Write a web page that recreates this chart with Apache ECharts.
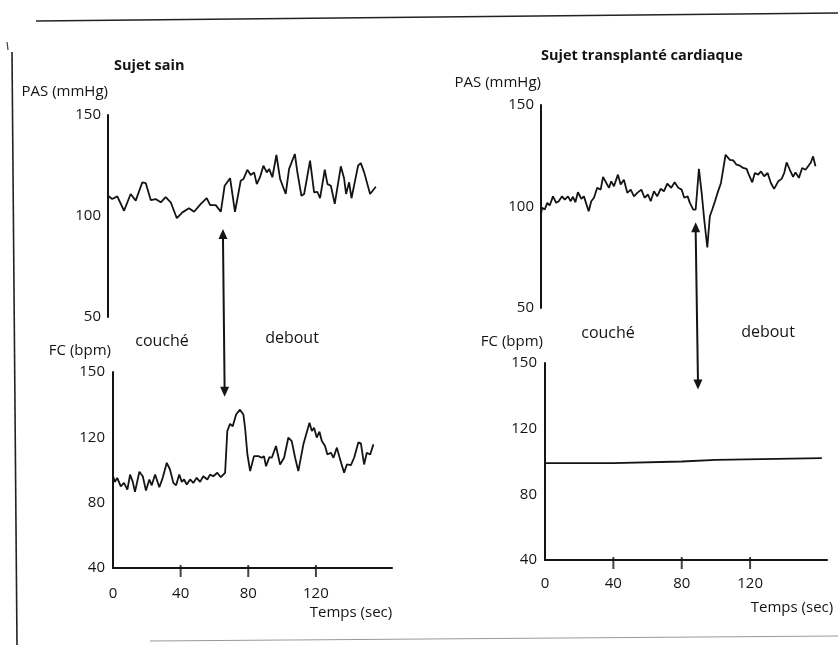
<!DOCTYPE html>
<html>
<head>
<meta charset="utf-8">
<script src="https://cdn.jsdelivr.net/npm/echarts@6/dist/echarts.min.js"></script>
<style>
html,body{margin:0;padding:0;background:#ffffff;}
#c{width:838px;height:645px;}
</style>
</head>
<body>
<div id="c"></div>
<script>
// ---- data ----
// Sujet sain, PAS (mmHg)
const sainPasTime = [0,2.5,5.5,9.5,13.4,16.4,20.3,22.3,25.3,28.2,31.2,34.1,37.1,40.7,44,47.9,50.9,54.9,58.4,60.4,63.7,66.7,69,72.2,75.1,78.5,80.1,82.4,84.4,86.4,88,89.9,91.9,93.9,95.3,97.2,99.6,101.8,105.1,107.1,110.5,112,114.4,116,119.5,121.9,123.8,125.4,128.2,129.8,131.8,134.1,137.7,139.6,140.8,142.6,144,146,147.9,149.5,151.5,155,158.4];
const sainPas = [110,108.4,109.7,102.6,110.9,107.6,116.7,116.3,107.9,108.4,106.8,109.3,106.8,98.9,101.8,103.8,102.1,106,108.8,105.4,105.4,102.1,115,118.7,102.1,117.5,118.3,122.9,120.3,121.6,115.8,119.2,124.9,121.6,123.3,119.2,130.2,118.3,110.9,123.3,130.7,121.6,110,110.9,127.4,111.7,112,108.8,122.9,115.8,115,106,124.6,118.7,110.9,116.7,108.8,117,124.9,126.2,121.6,110.9,114.5];
// Sujet sain, FC (bpm)
const sainFcTime = [0,1.2,2.5,4.6,6.5,8.5,10.1,11.7,13,15.6,17.6,19.5,21.5,22.9,24.9,27.4,29.4,31.8,33.7,35.7,37.3,39.2,40.7,42,43.6,45.6,47.5,49.5,51.5,53.4,55.8,57.4,59.3,61.7,63.7,66.3,67.6,69.2,70.8,72.8,75.1,77.1,78.1,79.5,81.1,82.1,83.4,86,88,89.3,90.5,92.5,93.9,96.4,98.8,101.2,103.7,105.7,107.7,109.6,112.6,116.2,117.6,118.9,120.5,122.1,123.5,125.4,126.8,128.8,130.4,132.4,134.3,136.7,138.3,140.7,142.6,145.1,146.6,148.5,150.1,152.1,154];
const sainFc = [96.2,92.7,95.2,90,92.1,88,97.2,92.7,86.6,98.9,96.2,87.4,94.2,90.6,97.2,89.4,95.2,104.4,100.3,92.1,90.6,97.2,92.7,94.2,91.1,94.2,92.1,95.2,92.7,96.2,94.2,97.2,96.2,98.3,95.6,98.3,122.9,126.2,125.1,130.5,132.7,130.5,124.4,109.5,99.3,98.3,108.5,108.5,107.5,108.5,102.3,107.9,107.5,114.7,103.4,107.5,119.9,117.7,107.5,99.3,115.7,126.7,122.9,124.4,119.9,122.6,117.7,114.7,109.5,110.6,107.5,113.7,106.5,98.3,103.4,103,107.5,116.9,116.3,103.4,110.6,109.5,115.7];
// Sujet transplanté cardiaque, PAS (mmHg)
const transPasTime = [0,0.6,2.2,3.7,5.1,7,8.9,10.4,12.3,13.9,15.8,17.4,18.7,20.1,21.6,23.6,25.1,27.9,29.4,31,32.9,34.9,36.3,38.2,39.8,41.1,42.7,45,46.6,48.5,50.5,52.5,54.4,56.3,58.7,60.6,62.6,64.2,66.1,68,70,71.9,73.9,76.2,78.2,80.3,82.3,83.8,85.8,87.1,89.1,90.5,92.4,94,95.5,97.3,98.8,100.2,101.8,103.3,105.3,108,110.5,112.5,114.4,116.4,118.3,120.3,121.6,123.6,125.1,127.1,128.7,130.6,132.6,134.5,136.4,138.8,140.8,142.3,143.7,145.6,147.5,148.9,150.9,152.8,154.8,156.3,157.9,159.2,160.6];
const transPas = [96.1,99.4,98.5,101.8,100.5,105,101.8,102.6,105,103.4,105,102.6,104.8,102.1,107,103.8,105,97.7,102.6,104.3,109.2,108.3,114.6,111.6,109.2,112.4,110,115.7,110.8,113.2,106.7,108.3,105,106.7,108.3,104.3,105.9,102.6,107.5,105,108.7,107.5,111.3,109.2,111.9,109.2,108.3,104.3,105,101.8,98.5,98.5,118.5,106.7,93.6,79.8,95.2,98.5,102.6,106.7,111.6,125.5,123,122.7,120.6,120.1,119,118.5,115.7,111.9,116.5,115.7,117.3,114.9,116.5,111.6,108.7,112.4,113.6,116.5,121.7,118.1,114.6,116.8,114.1,119,118.1,119.8,121.7,124.7,119.8];
// Sujet transplanté cardiaque, FC (bpm)
const transFcTime = [0,40,80,100,162];
const transFc = [99,99,100,101,102];

// axis tick labels
const pasTicks = [50,100,150];
const fcTicks = [40,80,120,150];      // drawn evenly spaced in the original
const timeTicks = [0,40,80,120];

// stand-up markers (arrow time, arrow tip values)
const sainArrow = {t: 67, pasTip: 93.6, fcTip: 138.6};
const transArrow = {t: 90, pasTip: 92.2, fcTip: 137.9};

// ---- helpers ----
// FC axis in the original has evenly spaced labels 40/80/120/150: map bpm to label-index units
function fcPos(v){
  for (let i = 0; i < fcTicks.length - 1; i++) {
    if (v <= fcTicks[i+1] || i === fcTicks.length - 2) {
      return i + (v - fcTicks[i]) / (fcTicks[i+1] - fcTicks[i]);
    }
  }
}
function zip(ts, vs, f){ return ts.map((t,i)=>[t, f ? f(vs[i]) : vs[i]]); }

const FONT = '"Open Sans", "Lato", sans-serif';
const INK = '#141414';

function yAxisPas(gridIndex, gap){
  return {
    type:'value', gridIndex, min:50, max:150, interval:50,
    name:'PAS (mmHg)', nameLocation:'end', nameGap:gap,
    nameTextStyle:{fontFamily:FONT, fontSize:15, color:INK, align:'right', verticalAlign:'middle'},
    axisLine:{show:true, lineStyle:{color:INK, width:2}},
    axisTick:{show:false}, splitLine:{show:false},
    axisLabel:{fontFamily:FONT, fontSize:15, color:INK, margin:7,
      customValues: pasTicks}
  };
}
function yAxisFc(gridIndex, gap){
  return {
    type:'value', gridIndex, min:0, max:fcTicks.length-1, interval:1,
    name:'FC (bpm)', nameLocation:'end', nameGap:gap,
    nameTextStyle:{fontFamily:FONT, fontSize:15, color:INK, align:'right', verticalAlign:'middle', padding:[0,2,0,0]},
    axisLine:{show:true, lineStyle:{color:INK, width:2}},
    axisTick:{show:false}, splitLine:{show:false},
    axisLabel:{fontFamily:FONT, fontSize:15, color:INK, margin:8,
      formatter:(v)=> String(fcTicks[Math.round(v)])}
  };
}
function xAxisTime(gridIndex, show, margin){
  return {
    type:'value', gridIndex, min:0, max:165, interval:40, show,
    axisLine:{show:true, onZero:false, lineStyle:{color:INK, width:2}},
    axisTick:{show:false},
    axisLabel:{fontFamily:FONT, fontSize:15, color:INK, margin, customValues: timeTicks},
    splitLine:{show:false}
  };
}
function lineSeries(xi, data){
  return {type:'line', xAxisIndex:xi, yAxisIndex:xi, data, showSymbol:false, symbol:'none',
    lineStyle:{color:INK, width:1.8}, silent:true, animation:false};
}
// tick marks crossing the time axis (drawn at the axis bottom of each FC panel)
function tickSeries(xi){
  return {type:'scatter', xAxisIndex:xi, yAxisIndex:xi, clip:false, silent:true, animation:false,
    symbol:'rect', symbolSize:[2,12], symbolOffset:[0,3],
    itemStyle:{color:INK},
    data: timeTicks.filter(t=>t>0).map(t=>[t, 0])};
}

const chart = echarts.init(document.getElementById('c'), null, {renderer:'canvas'});
chart.setOption({
  backgroundColor:'#ffffff',
  animation:false,
  textStyle:{fontFamily:FONT},
  title:[
    {text:'Sujet sain', left:109, top:53, textStyle:{fontFamily:FONT, fontSize:14.5, fontWeight:'bold', color:INK}},
    {text:'Sujet transplanté cardiaque', left:536, top:43, textStyle:{fontFamily:FONT, fontSize:14.5, fontWeight:'bold', color:INK}}
  ],
  grid:[
    {left:108, top:115, width:279, height:202},
    {left:113, top:372, width:279, height:196},
    {left:541, top:105, width:282, height:203},
    {left:545, top:363, width:282, height:197}
  ],
  xAxis:[ xAxisTime(0,false,12), xAxisTime(1,true,18), xAxisTime(2,false,12), xAxisTime(3,true,16) ],
  yAxis:[ yAxisPas(0,23), yAxisFc(1,21), yAxisPas(2,22), yAxisFc(3,21) ],
  series:[
    lineSeries(0, zip(sainPasTime, sainPas)),
    lineSeries(1, zip(sainFcTime, sainFc, fcPos)),
    lineSeries(2, zip(transPasTime, transPas)),
    lineSeries(3, zip(transFcTime, transFc, fcPos)),
    tickSeries(1),
    tickSeries(3)
  ]
});

// arrows and annotations
function arrow(topPt, botPt){
  const w = 4.5, h = 10;
  return [
    {type:'line', shape:{x1:topPt[0], y1:topPt[1]+h-1, x2:botPt[0], y2:botPt[1]-h+1}, style:{stroke:INK, lineWidth:2}},
    {type:'polygon', shape:{points:[[topPt[0],topPt[1]],[topPt[0]-w,topPt[1]+h],[topPt[0]+w,topPt[1]+h]]}, style:{fill:INK}},
    {type:'polygon', shape:{points:[[botPt[0],botPt[1]],[botPt[0]-w,botPt[1]-h],[botPt[0]+w,botPt[1]-h]]}, style:{fill:INK}}
  ];
}
const aTop = chart.convertToPixel({gridIndex:0}, [sainArrow.t + 1, sainArrow.pasTip]);
const aBot = chart.convertToPixel({gridIndex:1}, [sainArrow.t - 1, fcPos(sainArrow.fcTip)]);
const bTop = chart.convertToPixel({gridIndex:2}, [transArrow.t + 0.5, transArrow.pasTip]);
const bBot = chart.convertToPixel({gridIndex:3}, [transArrow.t - 0.5, fcPos(transArrow.fcTip)]);

function txt(text, x, y, size, align){
  return {type:'text', x, y, style:{text, fontFamily:FONT, fontSize:size, fill:INK, align:align||'center', verticalAlign:'middle'}};
}
chart.setOption({
  graphic:[].concat(
    arrow(aTop, aBot),
    arrow(bTop, bBot),
    [
      txt('couché', 162, 341, 16),
      txt('debout', 292, 338, 16),
      txt('couché', 608, 333, 16),
      txt('debout', 768, 332, 16),
      txt('Temps (sec)', 351, 613, 15),
      txt('Temps (sec)', 792, 608, 15),
      // scanned page frame
      {type:'line', shape:{x1:36, y1:21, x2:838, y2:13}, style:{stroke:'#222', lineWidth:1.6}},
      {type:'line', shape:{x1:12, y1:52, x2:17, y2:645}, style:{stroke:'#222', lineWidth:1.6}},
      {type:'line', shape:{x1:7, y1:42, x2:8, y2:50}, style:{stroke:'#444', lineWidth:1.2}},
      {type:'line', shape:{x1:150, y1:641, x2:838, y2:636}, style:{stroke:'#999', lineWidth:1.2}}
    ]
  )
});
</script>
</body>
</html>
